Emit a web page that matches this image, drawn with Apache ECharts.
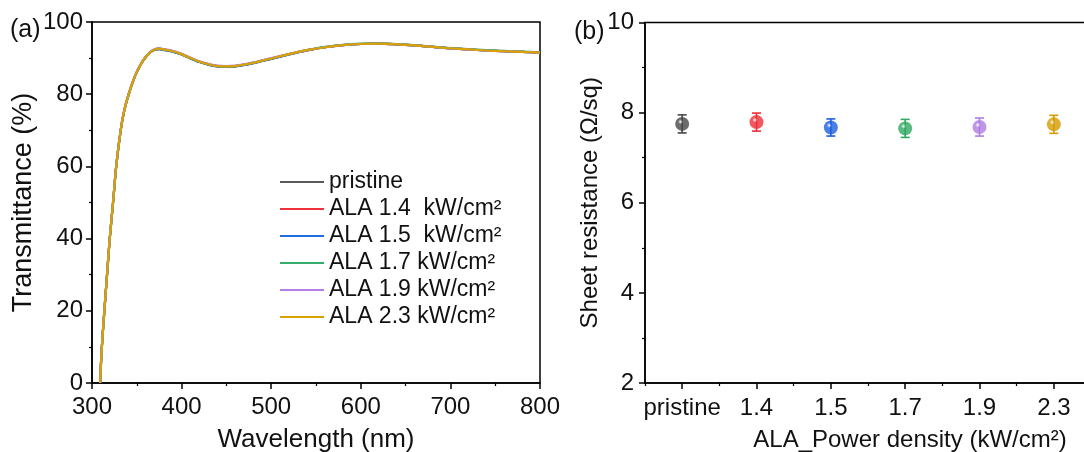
<!DOCTYPE html>
<html>
<head>
<meta charset="utf-8">
<script src="https://cdn.jsdelivr.net/npm/echarts@6/dist/echarts.min.js"></script>
<style>
html,body{margin:0;padding:0;background:#fff;}
#c{width:1084px;height:452px;}
</style>
</head>
<body>
<div id="c"></div>
<script>
// ---- Panel (a): transmittance spectra ----
const wavelengths = [309,311,313.8,316.8,319.8,323.5,327,332,336,341,348,355,360,365,370,375,380,390,400,410,420,430,440,450,460,470,480,490,500,520,540,560,580,600,620,640,660,680,700,720,740,760,780,800];
const tPristine = [0,10,20,30,40,50,60,70,75.5,80,85,88.5,90.3,91.6,92.3,92.5,92.3,91.8,91.0,89.9,88.9,88.2,87.7,87.6,87.7,88.1,88.6,89.2,89.8,91.0,92.1,93.0,93.6,93.9,94.0,93.8,93.5,93.1,92.7,92.4,92.1,91.9,91.7,91.5];
const t14 = [0,10,20,30,40,50,60,70,75.5,80,85,88.5,90.3,91.6,92.4,92.6,92.4,91.9,91.1,90.0,89.0,88.3,87.8,87.7,87.8,88.2,88.7,89.3,89.9,91.1,92.2,93.0,93.6,93.9,94.0,93.8,93.5,93.1,92.7,92.4,92.1,91.9,91.7,91.5];
const t15 = [0,10,20,30,40,50,60,70,75.5,80,85,88.5,90.3,91.6,92.3,92.5,92.3,91.8,91.0,89.9,88.9,88.2,87.7,87.6,87.7,88.1,88.6,89.2,89.8,91.0,92.1,93.0,93.6,93.9,94.0,93.8,93.5,93.1,92.7,92.4,92.1,91.9,91.7,91.5];
const t17 = [0,10,20,30,40,50,60,70,75.5,80,85,88.5,90.3,91.6,92.4,92.6,92.4,91.9,91.1,90.0,89.0,88.3,87.8,87.7,87.8,88.2,88.7,89.3,89.9,91.1,92.2,93.1,93.7,94.0,94.1,93.9,93.6,93.2,92.8,92.5,92.2,92.0,91.8,91.6];
const t19 = [0,10.1,20.1,30.1,40.1,50.1,60.1,70.1,75.6,80.1,85.1,88.6,90.4,91.7,92.5,92.7,92.5,92.0,91.2,90.1,89.1,88.4,87.9,87.8,87.9,88.3,88.8,89.4,90.0,91.1,92.2,93.0,93.6,93.9,94.0,93.8,93.5,93.1,92.7,92.4,92.1,91.9,91.7,91.5];
const t23 = [0,10,20,30,40,50,60,70,75.5,80,85,88.5,90.3,91.6,92.4,92.6,92.4,91.9,91.1,90.0,89.0,88.3,87.8,87.7,87.8,88.2,88.7,89.3,89.9,91.1,92.2,93.0,93.6,93.9,94.0,93.8,93.5,93.1,92.7,92.4,92.1,91.9,91.7,91.5];
const specNames = ['pristine','ALA 1.4  kW/cm²','ALA 1.5  kW/cm²','ALA 1.7 kW/cm²','ALA 1.9 kW/cm²','ALA 2.3 kW/cm²'];
const specColors = ['#5a5a5a','#f0323c','#1f6ee0','#35ac6c','#b47ee6','#d8a300'];

// ---- Panel (b): sheet resistance ----
const categories = ['pristine','1.4','1.5','1.7','1.9','2.3'];
const rsMean = [7.75, 7.79, 7.67, 7.65, 7.68, 7.74];
const rsErr = [0.20, 0.20, 0.19, 0.20, 0.20, 0.20];
const rsColors = ['#474747','#ee2e38','#1c5fe0','#2fa862','#b07de3','#d49b00'];
const rsTicks = [2,4,6,8,10];

const specArrays = [tPristine,t14,t15,t17,t19,t23];
const lineSeries = specArrays.map((arr,i)=>({
  name: specNames[i], type:'line', xAxisIndex:0, yAxisIndex:0,
  data: wavelengths.map((w,j)=>[w,arr[j]]),
  showSymbol:false, symbol:'none', smooth:0.3,
  lineStyle:{color:specColors[i], width:2.2}, itemStyle:{color:specColors[i]},
  z: 2+i, animation:false
}));

function sphere(c){
  return {type:'radial', x:0.38, y:0.35, r:0.7, colorStops:[
    {offset:0, color:'#ffffff'},{offset:0.25, color:c},{offset:1, color:c}]};
}

const scatterSeries = {
  type:'scatter', xAxisIndex:1, yAxisIndex:1, symbolSize:14, z:10,
  data: rsMean.map((v,i)=>({value:[i,v], itemStyle:{color:sphere(rsColors[i])}})),
  animation:false
};
const errSeries = {
  type:'custom', xAxisIndex:1, yAxisIndex:1, z:5, animation:false,
  data: rsMean.map((v,i)=>[i, v-rsErr[i], v+rsErr[i]]),
  renderItem:function(params, api){
    const i = api.value(0);
    const lo = api.coord([i, api.value(1)]);
    const hi = api.coord([i, api.value(2)]);
    const col = rsColors[params.dataIndex];
    const st = {stroke:col, lineWidth:1.6};
    return {type:'group', children:[
      {type:'line', shape:{x1:lo[0],y1:lo[1],x2:hi[0],y2:hi[1]}, style:st},
      {type:'line', shape:{x1:lo[0]-4.5,y1:lo[1],x2:lo[0]+4.5,y2:lo[1]}, style:st},
      {type:'line', shape:{x1:hi[0]-4.5,y1:hi[1],x2:hi[0]+4.5,y2:hi[1]}, style:st}
    ]};
  }
};

const FONT = 'Liberation Sans, Arial, sans-serif';
const axisLineStyle = {color:'#000', width:1.5};
const TICKFS = 24;

const option = {
  backgroundColor:'#fff',
  animation:false,
  textStyle:{fontFamily:FONT},
  grid:[
    {left:92, top:22, width:448, height:361, show:true, borderColor:'#000', borderWidth:1.5, containLabel:false, outerBoundsMode:'none'},
    {left:645, top:22.5, width:446, height:360.5, show:true, borderColor:'#000', borderWidth:1.5, containLabel:false, outerBoundsMode:'none'}
  ],
  legend:{
    left:275, top:165, orient:'vertical', itemWidth:44, itemHeight:2, itemGap:3,
    data:specNames, icon:'rect',
    textStyle:{fontSize:23, color:'#111', fontFamily:FONT, lineHeight:24, padding:[0,0,0,0]},
    selectedMode:false
  },
  xAxis:[
    {type:'value', gridIndex:0, min:300, max:800, interval:100,
     name:'Wavelength (nm)', nameLocation:'middle', nameGap:44,
     nameTextStyle:{fontSize:26, color:'#111', fontFamily:FONT},
     axisLine:{show:true, lineStyle:axisLineStyle},
     axisTick:{show:true, inside:false, length:6, lineStyle:{color:'#000', width:1.5}},
     minorTick:{show:true, splitNumber:2, length:3, lineStyle:{color:'#000', width:1.2}},
     axisLabel:{fontSize:TICKFS, color:'#111', margin:12, fontFamily:FONT},
     splitLine:{show:false}},
    {type:'category', gridIndex:1, data:categories, boundaryGap:true,
     name:'ALA_Power density (kW/cm²)', nameLocation:'middle', nameGap:45,
     nameTextStyle:{fontSize:24, color:'#111', fontFamily:FONT, padding:[0,0,0,84]},
     axisLine:{show:true, lineStyle:axisLineStyle},
     axisTick:{show:true, inside:false, alignWithLabel:true, length:6, lineStyle:{color:'#000', width:1.5}},
     axisLabel:{fontSize:TICKFS, color:'#111', margin:13, fontFamily:FONT, interval:0},
     splitLine:{show:false}},
    {type:'category', gridIndex:1, data:categories, boundaryGap:true, position:'bottom',
     axisLine:{show:false}, axisLabel:{show:false},
     axisTick:{show:true, inside:false, alignWithLabel:false, interval:0, length:3, lineStyle:{color:'#000', width:1.2}},
     splitLine:{show:false}}
  ],
  yAxis:[
    {type:'value', gridIndex:0, min:0, max:100, interval:20,
     name:'Transmittance (%)', nameLocation:'middle', nameGap:55,
     nameTextStyle:{fontSize:27, color:'#111', fontFamily:FONT},
     axisLine:{show:true, lineStyle:axisLineStyle},
     axisTick:{show:true, inside:false, length:6, lineStyle:{color:'#000', width:1.5}},
     minorTick:{show:true, splitNumber:2, length:3, lineStyle:{color:'#000', width:1.2}},
     axisLabel:{fontSize:TICKFS, color:'#111', margin:9, fontFamily:FONT},
     splitLine:{show:false}},
    {type:'value', gridIndex:1, min:rsTicks[0], max:rsTicks[rsTicks.length-1], interval:2,
     name:'Sheet resistance (Ω/sq)', nameLocation:'middle', nameGap:43,
     nameTextStyle:{fontSize:24, color:'#111', fontFamily:FONT},
     axisLine:{show:true, lineStyle:axisLineStyle},
     axisTick:{show:true, inside:false, length:6, lineStyle:{color:'#000', width:1.5}},
     minorTick:{show:true, splitNumber:2, length:3, lineStyle:{color:'#000', width:1.2}},
     axisLabel:{fontSize:TICKFS, color:'#111', margin:11, fontFamily:FONT},
     splitLine:{show:false}},
  ],
  graphic:[
    {type:'text', left:10, top:18, style:{text:'(a)', fontSize:25, fill:'#111', fontFamily:FONT}},
    {type:'text', left:574, top:20, style:{text:'(b)', fontSize:25, fill:'#111', fontFamily:FONT}}
  ],
  series: lineSeries.concat([errSeries, scatterSeries])
};

const chart = echarts.init(document.getElementById('c'), null, {renderer:'canvas'});
chart.setOption(option);
</script>
</body>
</html>
